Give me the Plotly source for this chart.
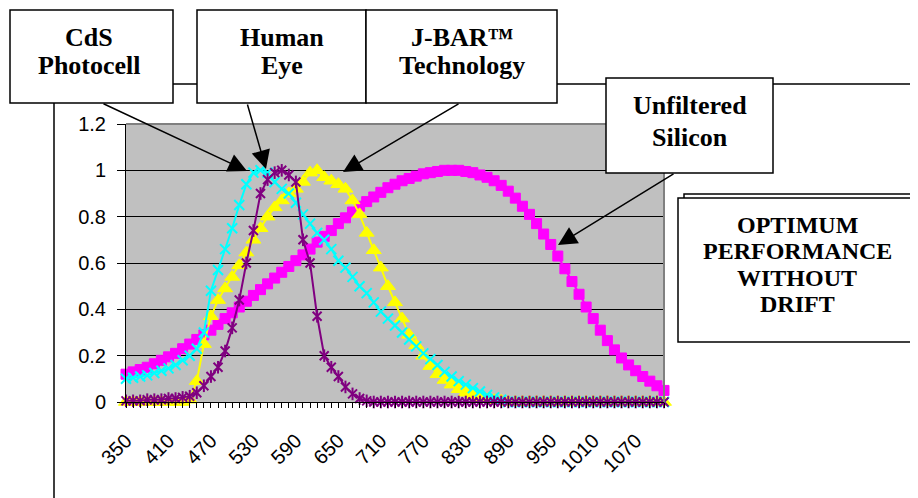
import plotly.graph_objects as go

# ---------------- data ----------------
wavelength_nm = [350, 360, 370, 380, 390, 400, 410, 420, 430, 440,
                 450, 460, 470, 480, 490, 500, 510, 520, 530, 540,
                 550, 560, 570, 580, 590, 600, 610, 620, 630, 640,
                 650, 660, 670, 680, 690, 700, 710, 720, 730, 740,
                 750, 760, 770, 780, 790, 800, 810, 820, 830, 840,
                 850, 860, 870, 880, 890, 900, 910, 920, 930, 940,
                 950, 960, 970, 980, 990, 1000, 1010, 1020, 1030, 1040,
                 1050, 1060, 1070, 1080, 1090, 1100, 1110]

unfiltered_silicon = [0.12, 0.13, 0.14, 0.15, 0.165, 0.18, 0.195, 0.21, 0.23, 0.25,
                      0.27, 0.29, 0.31, 0.335, 0.36, 0.385, 0.41, 0.435, 0.46, 0.485,
                      0.51, 0.535, 0.56, 0.585, 0.61, 0.635, 0.66, 0.69, 0.715, 0.74,
                      0.77, 0.795, 0.82, 0.845, 0.865, 0.885, 0.905, 0.925, 0.94, 0.955,
                      0.965, 0.975, 0.985, 0.99, 0.995, 1.0, 1.0, 1.0, 0.995, 0.99,
                      0.98, 0.97, 0.955, 0.935, 0.91, 0.88, 0.845, 0.81, 0.77, 0.725,
                      0.68, 0.63, 0.575, 0.52, 0.465, 0.41, 0.36, 0.31, 0.265, 0.225,
                      0.19, 0.16, 0.135, 0.11, 0.09, 0.07, 0.05]

jbar_technology = [0.0, 0.0, 0.0, 0.0, 0.0, 0.0, 0.0, 0.0, 0.0, 0.01,
                   0.09, 0.25, 0.37, 0.44, 0.49, 0.54, 0.59, 0.645, 0.70, 0.75,
                   0.80, 0.84, 0.87, 0.90, 0.92, 0.95, 0.99, 1.0, 0.97, 0.955,
                   0.94, 0.92, 0.87, 0.81, 0.73, 0.655, 0.58, 0.50, 0.43, 0.36,
                   0.29, 0.245, 0.20, 0.155, 0.12, 0.095, 0.075, 0.055, 0.04, 0.03,
                   0.02, 0.012, 0.008, 0.005, 0.0, 0.0, 0.0, 0.0, 0.0, 0.0,
                   0.0, 0.0, 0.0, 0.0, 0.0, 0.0, 0.0, 0.0, 0.0, 0.0,
                   0.0, 0.0, 0.0, 0.0, 0.0, 0.0, 0.0]

cds_photocell = [0.10, 0.105, 0.11, 0.115, 0.125, 0.135, 0.145, 0.16, 0.18, 0.20,
                 0.23, 0.30, 0.48, 0.57, 0.66, 0.75, 0.85, 0.94, 0.99, 1.0,
                 0.99, 0.95, 0.92, 0.90, 0.86, 0.81, 0.77, 0.73, 0.70, 0.66,
                 0.61, 0.58, 0.54, 0.50, 0.47, 0.43, 0.39, 0.36, 0.33, 0.30,
                 0.27, 0.24, 0.21, 0.185, 0.16, 0.13, 0.11, 0.09, 0.075, 0.06,
                 0.045, 0.03, 0.02, 0.01, 0.0, 0.0, 0.0, 0.0, 0.0, 0.0,
                 0.0, 0.0, 0.0, 0.0, 0.0, 0.0, 0.0, 0.0, 0.0, 0.0,
                 0.0, 0.0, 0.0, 0.0, 0.0, 0.0, 0.0]

human_eye = [0.005, 0.005, 0.005, 0.01, 0.01, 0.01, 0.015, 0.015, 0.02, 0.025,
             0.04, 0.07, 0.11, 0.15, 0.22, 0.32, 0.44, 0.60, 0.74, 0.90,
             0.96, 0.99, 1.0, 0.98, 0.95, 0.70, 0.60, 0.37, 0.20, 0.15,
             0.11, 0.065, 0.035, 0.015, 0.005, 0.0, 0.0, 0.0, 0.0, 0.0,
             0.0, 0.0, 0.0, 0.0, 0.0, 0.0, 0.0, 0.0, 0.0, 0.0,
             0.0, 0.0, 0.0, 0.0, 0.0, 0.0, 0.0, 0.0, 0.0, 0.0,
             0.0, 0.0, 0.0, 0.0, 0.0, 0.0, 0.0, 0.0, 0.0, 0.0,
             0.0, 0.0, 0.0, 0.0, 0.0, 0.0, 0.0]

x_tick_values = [350, 410, 470, 530, 590, 650, 710, 770, 830, 890, 950, 1010, 1070]
x_tick_labels = ["350", "410", "470", "530", "590", "650", "710", "770",
                 "830", "890", "950", "1010", "1070"]
y_tick_values = [0, 0.2, 0.4, 0.6, 0.8, 1.0, 1.2]
y_tick_labels = ["0", "0.2", "0.4", "0.6", "0.8", "1", "1.2"]

# ---------------- layout geometry (reference pixels) ----------------
PAGE_OFF = 8                       # default page margin around the figure
W, H = 918 - PAGE_OFF, 498 - PAGE_OFF
PL, PR, PT, PB = 126, 664, 124, 402   # plot area edges in the reference


def px(x):
    return (x - PL) / (PR - PL)


def py(y):
    return (PB - y) / (PB - PT)


AX_FONT = dict(family="Liberation Sans, Arial, sans-serif", size=20, color="black")
BOX_FONT = dict(family="Liberation Serif, Times New Roman, serif", size=26, color="black")
BOX_FONT2 = dict(family="Liberation Serif, Times New Roman, serif", size=24, color="black")

fig = go.Figure()

fig.add_trace(go.Scatter(
    x=wavelength_nm, y=unfiltered_silicon, mode="lines+markers", name="Unfiltered Silicon",
    line=dict(color="#FF00FF", width=2),
    marker=dict(symbol="square", size=10, color="#FF00FF", line=dict(color="#FF00FF", width=1)),
    cliponaxis=False))

fig.add_trace(go.Scatter(
    x=wavelength_nm, y=jbar_technology, mode="lines+markers", name="J-BAR Technology",
    line=dict(color="#FFFF00", width=2),
    marker=dict(symbol="triangle-up", size=13, color="#FFFF00", line=dict(color="#FFFF00", width=1)),
    cliponaxis=False))

fig.add_trace(go.Scatter(
    x=wavelength_nm, y=cds_photocell, mode="lines+markers", name="CdS Photocell",
    line=dict(color="#00FFFF", width=2),
    marker=dict(symbol="x-thin", size=10, color="#00FFFF", line=dict(color="#00FFFF", width=2)),
    cliponaxis=False))

fig.add_trace(go.Scatter(
    x=wavelength_nm, y=human_eye, mode="lines+markers", name="Human Eye",
    line=dict(color="#800080", width=2),
    marker=dict(symbol="x-thin", size=9, color="#800080", line=dict(color="#800080", width=2)),
    cliponaxis=False))
fig.add_trace(go.Scatter(
    x=wavelength_nm, y=human_eye, mode="markers", name="Human Eye",
    marker=dict(symbol="line-ns", size=9, color="#800080", line=dict(color="#800080", width=2)),
    cliponaxis=False, showlegend=False))

fig.update_xaxes(
    range=[350, 1110], tickmode="array", tickvals=x_tick_values, ticktext=x_tick_labels,
    tickangle=-45, ticks="outside", ticklen=5, tickwidth=1, tickcolor="black",
    showline=True, linecolor="black", linewidth=1, showgrid=False, zeroline=False,
    minor=dict(tickmode="linear", tick0=350, dtick=10, ticks="outside", ticklen=5,
               tickwidth=1, tickcolor="black", showgrid=False),
    tickfont=AX_FONT, ticklabelstandoff=13)

fig.update_yaxes(
    range=[0, 1.2], tickmode="array", tickvals=y_tick_values, ticktext=y_tick_labels,
    ticks="outside", ticklen=8, tickwidth=1, tickcolor="black",
    showline=True, linecolor="black", linewidth=1, showgrid=True, gridcolor="black",
    gridwidth=1, zeroline=False, tickfont=AX_FONT, ticklabelstandoff=7)

shapes = []
# chart-area outline
shapes.append(dict(type="rect", xref="paper", yref="paper", x0=px(54), x1=px(940), y0=py(84), y1=py(530),
                   line=dict(color="black", width=1.5), fillcolor="rgba(0,0,0,0)", layer="below"))
shapes.append(dict(type="line", xref="paper", yref="paper", x0=px(916), x1=px(916), y0=py(9), y1=py(14),
                   line=dict(color="black", width=1.5), layer="above"))
# plot-area grey border (top and right)
shapes.append(dict(type="line", xref="paper", yref="paper", x0=0, x1=1, y0=1, y1=1,
                   line=dict(color="#808080", width=2), layer="above"))
shapes.append(dict(type="line", xref="paper", yref="paper", x0=1, x1=1, y0=0, y1=1,
                   line=dict(color="#808080", width=2), layer="above"))


def box(x0, y0, x1, y1):
    shapes.append(dict(type="rect", xref="paper", yref="paper", x0=px(x0), x1=px(x1),
                       y0=py(y1), y1=py(y0), line=dict(color="black", width=1.5),
                       fillcolor="white", layer="above"))


box(10, 10, 173, 103)     # CdS
box(197, 10, 366, 103)    # Human eye
box(366, 10, 557, 103)    # J-BAR
box(606, 78, 773, 173)    # Unfiltered silicon
box(684, 194, 925, 338)   # shadow of optimum box
box(678, 198, 916, 342)   # optimum box

annotations = []


def txt(s, cx, cy, font=BOX_FONT):
    annotations.append(dict(text="<b>%s</b>" % s, x=px(cx), y=py(cy), xref="paper", yref="paper",
                            xanchor="center", yanchor="middle", showarrow=False, font=font))


txt("CdS", 89, 38)
txt("Photocell", 89, 66)
txt("Human", 282, 38)
txt("Eye", 282, 66)
txt("J-BAR™", 462, 38)
txt("Technology", 462, 66)
txt("Unfiltered", 690, 106)
txt("Silicon", 690, 137)
txt("OPTIMUM", 797, 225, BOX_FONT2)
txt("PERFORMANCE", 797, 251, BOX_FONT2)
txt("WITHOUT", 797, 278, BOX_FONT2)
txt("DRIFT", 797, 304, BOX_FONT2)


def arrow(tx, ty, hx, hy):
    annotations.append(dict(text="", x=px(hx), y=py(hy), xref="paper", yref="paper",
                            ax=tx - hx, ay=ty - hy, showarrow=True, arrowhead=2,
                            arrowsize=2.5, arrowwidth=1.5, arrowcolor="black", standoff=0))


arrow(102, 103, 247, 171)
arrow(247, 103, 266, 169)
arrow(460, 103, 343, 172)
arrow(675, 173, 558, 245)

fig.update_layout(
    width=W, height=H, autosize=False,
    margin=dict(l=PL - PAGE_OFF, r=W - (PR - PAGE_OFF), t=PT - PAGE_OFF, b=H - (PB - PAGE_OFF), pad=0),
    paper_bgcolor="white", plot_bgcolor="#C0C0C0",
    showlegend=False, shapes=shapes, annotations=annotations)

fig.write_html("out.html")
